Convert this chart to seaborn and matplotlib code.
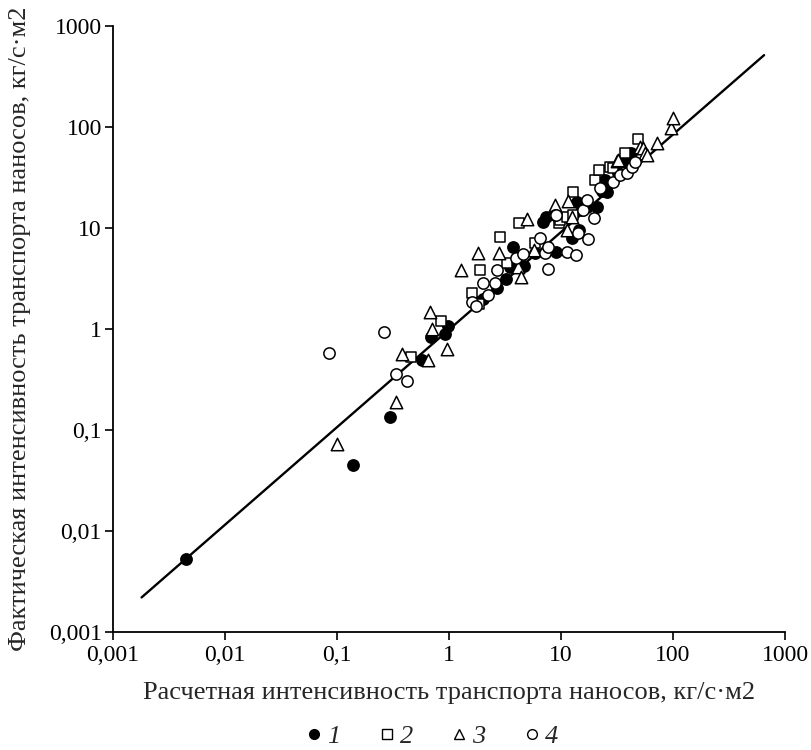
import matplotlib
matplotlib.use("Agg")
import matplotlib.pyplot as plt
from matplotlib.lines import Line2D
from matplotlib.ticker import FixedLocator, FixedFormatter, NullLocator
import seaborn as sns

# series 1 - filled circles
x1 = [0.0045, 0.138, 0.30, 0.57, 0.69, 0.92, 0.98, 1.75, 2.0, 2.66, 3.2, 3.5, 3.75, 4.7, 5.86,
      6.9, 7.4, 9.0, 12.6, 13.9, 14.5, 15.3, 17, 21, 23, 24.7, 25.6, 32.5, 37, 38.7, 42]
y1 = [0.0053, 0.045, 0.135, 0.49, 0.84, 0.89, 1.07, 1.85, 2.0, 2.55, 3.1, 4.1, 6.5, 4.2, 5.65,
      11.6, 12.9, 5.8, 7.9, 18.3, 9.5, 15.1, 16.3, 16.3, 23.5, 30, 22.9, 34.8, 50, 45, 55]
# series 2 - open squares
x2 = [0.46, 0.84, 1.6, 1.85, 1.89, 2.85, 3.27, 4.25, 5.86, 9.5, 9.8, 11.2, 12.9, 12.9,
      20, 22, 27.4, 29, 37, 49]
y2 = [0.53, 1.21, 2.25, 1.75, 3.84, 8.1, 4.5, 11.3, 7.1, 11.1, 12, 12.9, 13.5, 22.9,
      30, 37.5, 40.5, 39, 55, 75.5]
# series 3 - open triangles
x3 = [0.10, 0.336, 0.38, 0.65, 0.68, 0.71, 0.95, 1.28, 1.83, 2.81, 4.16, 4.35, 5.0, 5.7,
      8.8, 11.2, 11.6, 12.5, 31.4, 32.5, 51, 54, 56, 58, 72, 95, 100.7]
y3 = [0.073, 0.19, 0.57, 0.49, 1.48, 1.0, 0.64, 3.84, 5.7, 5.7, 4.1, 3.3, 12.2, 6.05,
      16.8, 9.5, 18.6, 12.9, 46, 47, 64, 61.5, 55, 53, 70, 97, 122]
# series 4 - open circles
x4 = [0.085, 0.264, 0.336, 0.425, 1.6, 1.75, 2.02, 2.24, 2.58, 2.66, 4.0, 4.6, 6.5, 7.2,
      7.6, 7.7, 8.8, 9.1, 11.2, 13.6, 14.3, 15.6, 17, 17.3, 19.5, 22.3, 29, 33.6, 38.7, 42.8, 45.8]
y4 = [0.58, 0.93, 0.36, 0.305, 1.85, 1.7, 2.83, 2.17, 2.83, 3.84, 5.0, 5.5, 7.9, 5.6,
      3.9, 6.5, 13.5, 13.5, 5.8, 5.4, 8.9, 15.1, 18.9, 7.7, 12.5, 24.7, 28.7, 33.5, 34.8, 40.5, 45]

# regression line
line_x = [0.0018, 650]
line_y = [0.0022, 515]

ticks = [0.001, 0.01, 0.1, 1, 10, 100, 1000]
tick_labels = ["0,001", "0,01", "0,1", "1", "10", "100", "1000"]
legend_labels = ["1", "2", "3", "4"]

sns.set_style("ticks")
plt.rcParams['font.family'] = ['Liberation Serif', 'DejaVu Serif']

fig = plt.figure(figsize=(8.11, 7.5), dpi=100)
ax = fig.add_axes([0.1393, 0.1573, 0.8287, 0.808])

sns.lineplot(x=line_x, y=line_y, color='black', linewidth=1.7, ax=ax)

ms = dict(edgecolor='black', linewidth=1.1, zorder=3)
sns.scatterplot(x=x1, y=y1, marker='o', s=66, color='black', ax=ax, **ms)
sns.scatterplot(x=x2, y=y2, marker='s', s=54, color='white', ax=ax, **ms)
sns.scatterplot(x=x3, y=y3, marker='^', s=80, color='white', ax=ax, **ms)
sns.scatterplot(x=x4, y=y4, marker='o', s=66, color='white', ax=ax, **ms)

ax.set_xscale('log')
ax.set_yscale('log')
ax.set_xlim(0.001, 1000)
ax.set_ylim(0.001, 1000)
for axis in (ax.xaxis, ax.yaxis):
    axis.set_major_locator(FixedLocator(ticks))
    axis.set_major_formatter(FixedFormatter(tick_labels))
    axis.set_minor_locator(NullLocator())
ax.tick_params(axis='both', labelsize=17, length=6, width=1.2, color='black', labelcolor='black')
ax.tick_params(axis='x', pad=3)
ax.tick_params(axis='y', pad=2)
sns.despine(ax=ax)
for sp in ('left', 'bottom'):
    ax.spines[sp].set_linewidth(1.3)
    ax.spines[sp].set_color('black')

ax.set_xlabel('Расчетная интенсивность транспорта наносов, кг/с·м2', fontsize=19, labelpad=12)
ax.set_ylabel('Фактическая интенсивность транспорта наносов, кг/с·м2', fontsize=19, labelpad=13)

handles = [
    Line2D([], [], marker='o', linestyle='', markersize=7, markerfacecolor='black', markeredgecolor='black'),
    Line2D([], [], marker='s', linestyle='', markersize=6.5, markerfacecolor='white', markeredgecolor='black'),
    Line2D([], [], marker='^', linestyle='', markersize=7, markerfacecolor='white', markeredgecolor='black'),
    Line2D([], [], marker='o', linestyle='', markersize=7, markerfacecolor='white', markeredgecolor='black'),
]
leg = fig.legend(handles, legend_labels, loc='center', bbox_to_anchor=(0.533, 0.018), ncol=4,
                 frameon=False, handlelength=0.6, handletextpad=0.2, columnspacing=1.45,
                 prop={'family': 'Liberation Serif', 'style': 'italic', 'size': 19})

fig.savefig('out.png', dpi=100)
